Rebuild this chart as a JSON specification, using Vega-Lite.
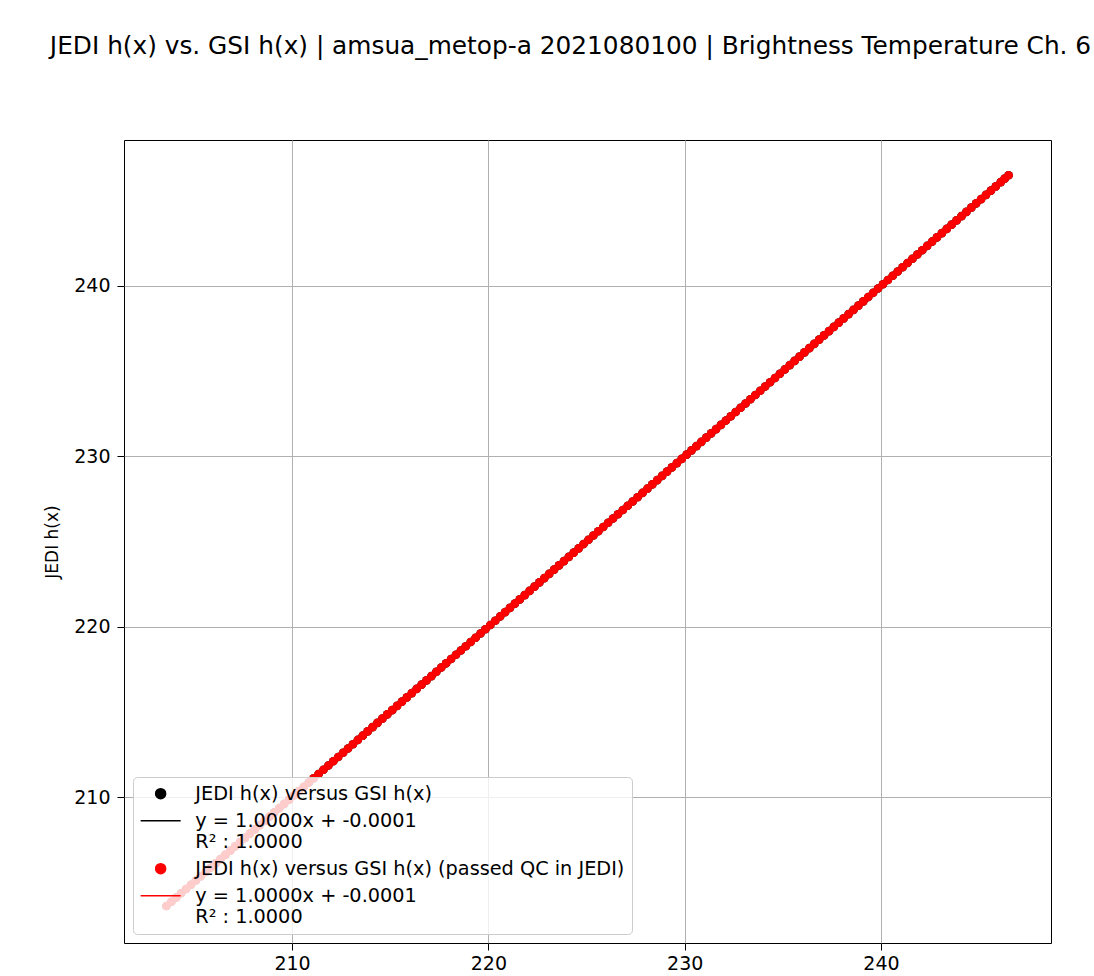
{
  "$schema": "https://vega.github.io/schema/vega-lite/v6.json",
  "width": 927,
  "height": 803,
  "autosize": {"type": "none"},
  "padding": {"left": 124, "top": 140, "right": 43, "bottom": 33},
  "background": "white",
  "title": {"text": "JEDI h(x) vs. GSI h(x) | amsua_metop-a 2021080100 | Brightness Temperature Ch. 6", "font": "DejaVu Sans", "fontSize": 24.8, "fontWeight": "normal", "color": "black", "anchor": "middle", "dx": -17, "offset": 81},
  "config": {
    "view": {"stroke": "black", "strokeWidth": 1},
    "axis": {"grid": true, "gridColor": "#b0b0b0", "gridWidth": 1, "domain": false, "tickColor": "black", "tickSize": 7, "tickWidth": 1, "labelFont": "DejaVu Sans", "labelFontSize": 19, "labelColor": "black", "titleFont": "DejaVu Sans", "titleFontSize": 17, "titleFontWeight": "normal", "titleColor": "black"}
  },
  "datasets": {
    "pts": [
      {"x":203.60,"y":203.60},{"x":203.85,"y":203.85},
      {"x":204.10,"y":204.10},{"x":204.35,"y":204.35},{"x":204.60,"y":204.60},{"x":204.85,"y":204.85},
      {"x":205.10,"y":205.10},{"x":205.35,"y":205.35},{"x":205.60,"y":205.60},{"x":205.85,"y":205.85},
      {"x":206.10,"y":206.10},{"x":206.35,"y":206.35},{"x":206.60,"y":206.60},{"x":206.85,"y":206.85},
      {"x":207.10,"y":207.10},{"x":207.35,"y":207.35},{"x":207.60,"y":207.60},{"x":207.85,"y":207.85},
      {"x":208.10,"y":208.10},{"x":208.35,"y":208.35},{"x":208.60,"y":208.60},{"x":208.85,"y":208.85},
      {"x":209.10,"y":209.10},{"x":209.35,"y":209.35},{"x":209.60,"y":209.60},{"x":209.85,"y":209.85},
      {"x":210.10,"y":210.10},{"x":210.35,"y":210.35},{"x":210.60,"y":210.60},{"x":210.85,"y":210.85},
      {"x":211.10,"y":211.10},{"x":211.35,"y":211.35},{"x":211.60,"y":211.60},{"x":211.85,"y":211.85},
      {"x":212.10,"y":212.10},{"x":212.35,"y":212.35},{"x":212.60,"y":212.60},{"x":212.85,"y":212.85},
      {"x":213.10,"y":213.10},{"x":213.35,"y":213.35},{"x":213.60,"y":213.60},{"x":213.85,"y":213.85},
      {"x":214.10,"y":214.10},{"x":214.35,"y":214.35},{"x":214.60,"y":214.60},{"x":214.85,"y":214.85},
      {"x":215.10,"y":215.10},{"x":215.35,"y":215.35},{"x":215.60,"y":215.60},{"x":215.85,"y":215.85},
      {"x":216.10,"y":216.10},{"x":216.35,"y":216.35},{"x":216.60,"y":216.60},{"x":216.85,"y":216.85},
      {"x":217.10,"y":217.10},{"x":217.35,"y":217.35},{"x":217.60,"y":217.60},{"x":217.85,"y":217.85},
      {"x":218.10,"y":218.10},{"x":218.35,"y":218.35},{"x":218.60,"y":218.60},{"x":218.85,"y":218.85},
      {"x":219.10,"y":219.10},{"x":219.35,"y":219.35},{"x":219.60,"y":219.60},{"x":219.85,"y":219.85},
      {"x":220.10,"y":220.10},{"x":220.35,"y":220.35},{"x":220.60,"y":220.60},{"x":220.85,"y":220.85},
      {"x":221.10,"y":221.10},{"x":221.35,"y":221.35},{"x":221.60,"y":221.60},{"x":221.85,"y":221.85},
      {"x":222.10,"y":222.10},{"x":222.35,"y":222.35},{"x":222.60,"y":222.60},{"x":222.85,"y":222.85},
      {"x":223.10,"y":223.10},{"x":223.35,"y":223.35},{"x":223.60,"y":223.60},{"x":223.85,"y":223.85},
      {"x":224.10,"y":224.10},{"x":224.35,"y":224.35},{"x":224.60,"y":224.60},{"x":224.85,"y":224.85},
      {"x":225.10,"y":225.10},{"x":225.35,"y":225.35},{"x":225.60,"y":225.60},{"x":225.85,"y":225.85},
      {"x":226.10,"y":226.10},{"x":226.35,"y":226.35},{"x":226.60,"y":226.60},{"x":226.85,"y":226.85},
      {"x":227.10,"y":227.10},{"x":227.35,"y":227.35},{"x":227.60,"y":227.60},{"x":227.85,"y":227.85},
      {"x":228.10,"y":228.10},{"x":228.35,"y":228.35},{"x":228.60,"y":228.60},{"x":228.85,"y":228.85},
      {"x":229.10,"y":229.10},{"x":229.35,"y":229.35},{"x":229.60,"y":229.60},{"x":229.85,"y":229.85},
      {"x":230.10,"y":230.10},{"x":230.35,"y":230.35},{"x":230.60,"y":230.60},{"x":230.85,"y":230.85},
      {"x":231.10,"y":231.10},{"x":231.35,"y":231.35},{"x":231.60,"y":231.60},{"x":231.85,"y":231.85},
      {"x":232.10,"y":232.10},{"x":232.35,"y":232.35},{"x":232.60,"y":232.60},{"x":232.85,"y":232.85},
      {"x":233.10,"y":233.10},{"x":233.35,"y":233.35},{"x":233.60,"y":233.60},{"x":233.85,"y":233.85},
      {"x":234.10,"y":234.10},{"x":234.35,"y":234.35},{"x":234.60,"y":234.60},{"x":234.85,"y":234.85},
      {"x":235.10,"y":235.10},{"x":235.35,"y":235.35},{"x":235.60,"y":235.60},{"x":235.85,"y":235.85},
      {"x":236.10,"y":236.10},{"x":236.35,"y":236.35},{"x":236.60,"y":236.60},{"x":236.85,"y":236.85},
      {"x":237.10,"y":237.10},{"x":237.35,"y":237.35},{"x":237.60,"y":237.60},{"x":237.85,"y":237.85},
      {"x":238.10,"y":238.10},{"x":238.35,"y":238.35},{"x":238.60,"y":238.60},{"x":238.85,"y":238.85},
      {"x":239.10,"y":239.10},{"x":239.35,"y":239.35},{"x":239.60,"y":239.60},{"x":239.85,"y":239.85},
      {"x":240.10,"y":240.10},{"x":240.35,"y":240.35},{"x":240.60,"y":240.60},{"x":240.85,"y":240.85},
      {"x":241.10,"y":241.10},{"x":241.35,"y":241.35},{"x":241.60,"y":241.60},{"x":241.85,"y":241.85},
      {"x":242.10,"y":242.10},{"x":242.35,"y":242.35},{"x":242.60,"y":242.60},{"x":242.85,"y":242.85},
      {"x":243.10,"y":243.10},{"x":243.35,"y":243.35},{"x":243.60,"y":243.60},{"x":243.85,"y":243.85},
      {"x":244.10,"y":244.10},{"x":244.35,"y":244.35},{"x":244.60,"y":244.60},{"x":244.85,"y":244.85},
      {"x":245.10,"y":245.10},{"x":245.35,"y":245.35},{"x":245.60,"y":245.60},{"x":245.85,"y":245.85},
      {"x":246.10,"y":246.10},{"x":246.30,"y":246.30},{"x":246.50,"y":246.50}
    ],
    "fit": [{"x": 203.60, "y": 203.5999}, {"x": 246.50, "y": 246.4999}]
  },
  "encoding": {
    "x": {"field": "x", "type": "quantitative", "scale": {"domain": [201.44, 248.66], "nice": false, "zero": false}, "axis": {"title": null, "values": [210, 220, 230, 240], "labelPadding": 4}},
    "y": {"field": "y", "type": "quantitative", "scale": {"domain": [201.43, 248.57], "nice": false, "zero": false}, "axis": {"title": "JEDI h(x)", "values": [210, 220, 230, 240], "labelPadding": 7, "titlePadding": 12}}
  },
  "layer": [
    {
      "data": {"name": "pts"},
      "mark": {"type": "circle", "size": 75, "opacity": 1},
      "encoding": {
        "color": {
          "datum": "a",
          "scale": {"domain": ["a", "b", "c", "d"], "range": ["black", "black", "red", "red"]},
          "legend": {
            "orient": "bottom-left",
            "offset": 9,
            "title": null,
            "fillColor": "rgba(255,255,255,0.8)",
            "strokeColor": "#cccccc",
            "cornerRadius": 4,
            "padding": 7,
            "rowPadding": 7,
            "symbolSize": 1600,
            "symbolStrokeWidth": 1.5,
            "symbolOffset": 11,
            "labelOffset": 25,
            "labelFont": "DejaVu Sans",
            "labelFontSize": 19.3,
            "labelColor": "black",
            "labelLimit": 700,
            "labelExpr": "datum.value == 'a' ? 'JEDI h(x) versus GSI h(x)' : datum.value == 'c' ? 'JEDI h(x) versus GSI h(x) (passed QC in JEDI)' : ['y = 1.0000x + -0.0001', 'R² : 1.0000']",
            "encoding": {
              "labels": {"lineHeight": {"value": 21}},
              "symbols": {
                "shape": {"value": {"expr": "datum.value == 'b' || datum.value == 'd' ? 'stroke' : 'circle'"}},
                "size": {"value": {"expr": "datum.value == 'b' || datum.value == 'd' ? 1600 : 100"}},
                "fill": {"value": {"expr": "datum.value == 'a' ? 'black' : datum.value == 'c' ? 'red' : 'transparent'"}},
                "stroke": {"value": {"expr": "datum.value == 'b' ? 'black' : datum.value == 'd' ? 'red' : 'transparent'"}},
                "strokeWidth": {"value": 1.5},
                "opacity": {"value": 1}
              }
            }
          }
        }
      }
    },
    {
      "data": {"name": "fit"},
      "mark": {"type": "line", "strokeWidth": 1.5},
      "encoding": {"color": {"datum": "b"}}
    },
    {
      "data": {"name": "pts"},
      "mark": {"type": "circle", "size": 75, "opacity": 1},
      "encoding": {"color": {"datum": "c"}}
    },
    {
      "data": {"name": "fit"},
      "mark": {"type": "line", "strokeWidth": 1.5},
      "encoding": {"color": {"datum": "d"}}
    }
  ]
}
